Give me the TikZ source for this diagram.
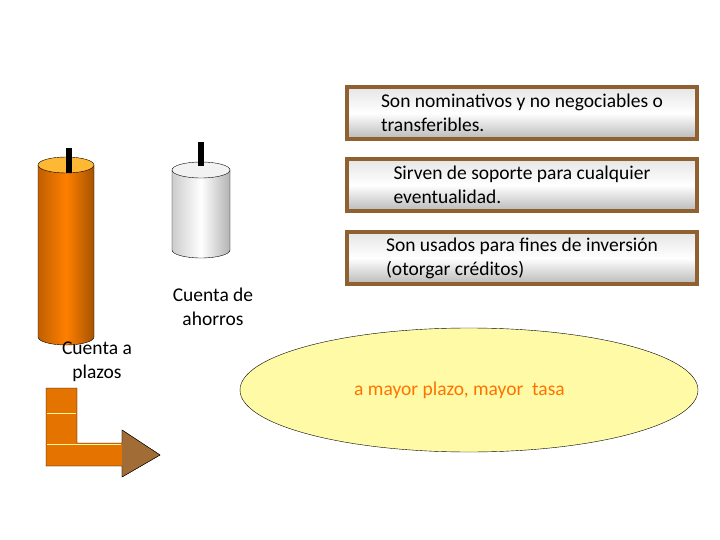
\documentclass[tikz,border=0pt]{standalone}
\usepackage{fontspec}
\setmainfont{Carlito}
\usetikzlibrary{shapes.geometric}
\begin{document}
\begin{tikzpicture}[x=1pt,y=-1pt,
  infobox/.style={draw=brown!75!black,line width=4pt,top color=gray!20,bottom color=gray!55,middle color=white,
    minimum width=350pt,minimum height=52pt,inner xsep=7pt,align=left,anchor=north west,font=\fontsize{19.5}{24}\selectfont},
  lbl/.style={align=center,font=\fontsize{19.5}{24}\selectfont}]
\useasboundingbox (0,0) rectangle (720,540);
% orange cylinder
\shade[left color=orange!75!black,right color=orange!65!black,middle color=orange] (38,165) -- (38,337) arc[start angle=180,end angle=0,x radius=28,y radius=8] -- (94,165) -- cycle;
\draw (38,165) -- (38,337) arc[start angle=180,end angle=0,x radius=28,y radius=8] -- (94,165);
\draw[fill=orange!70!yellow!80] (66,165) ellipse[x radius=28,y radius=8];
\fill (66,148) rectangle (72,173);
% grey cylinder
\shade[left color=gray!40,right color=gray!60,middle color=white] (172,170) -- (172,250) arc[start angle=180,end angle=0,x radius=29,y radius=8] -- (230,170) -- cycle;
\draw (172,170) -- (172,250) arc[start angle=180,end angle=0,x radius=29,y radius=8] -- (230,170);
\draw[fill=gray!10] (201,170) ellipse[x radius=29,y radius=8];
\fill (198,142) rectangle (204,166);
\node[lbl] (ahorros) at (213,307) {Cuenta de\\ahorros};
\node[lbl] (plazos) at (97,362) {Cuenta a\\plazos};
% L arrow
\draw[fill=orange!90!black] (46,388) -- (77,388) -- (77,443) -- (122,443) -- (122,430) -- (160,455) -- (122,477) -- (122,466) -- (46,466) -- cycle;
\fill[brown!85!black] (122,443) -- (122,430) -- (160,455) -- (122,477) -- (122,466) -- cycle;
\draw (122,443) -- (122,430) -- (160,455) -- (122,477) -- (122,466);
\draw[yellow!40,thin] (47,413) -- (76,413) (47,444) -- (121,444);
% boxes
\node[infobox] (b1) at (345,85) {Son nominativos y no negociables o\\transferibles.};
\node[infobox] (b2) at (345,157) {Sirven de soporte para cualquier\\eventualidad.};
\node[infobox] (b3) at (345,230) {Son usados para fines de inversión\\(otorgar créditos)};
\node[ellipse,draw,fill=yellow!35,minimum width=458pt,minimum height=124pt] (e) at (469,390) {};
\node[anchor=west,text=orange!90!red,font=\fontsize{19.5}{20}\selectfont,inner sep=0pt] (et) at (354,390) {a mayor plazo, mayor\ \ tasa};
\end{tikzpicture}
\end{document}
